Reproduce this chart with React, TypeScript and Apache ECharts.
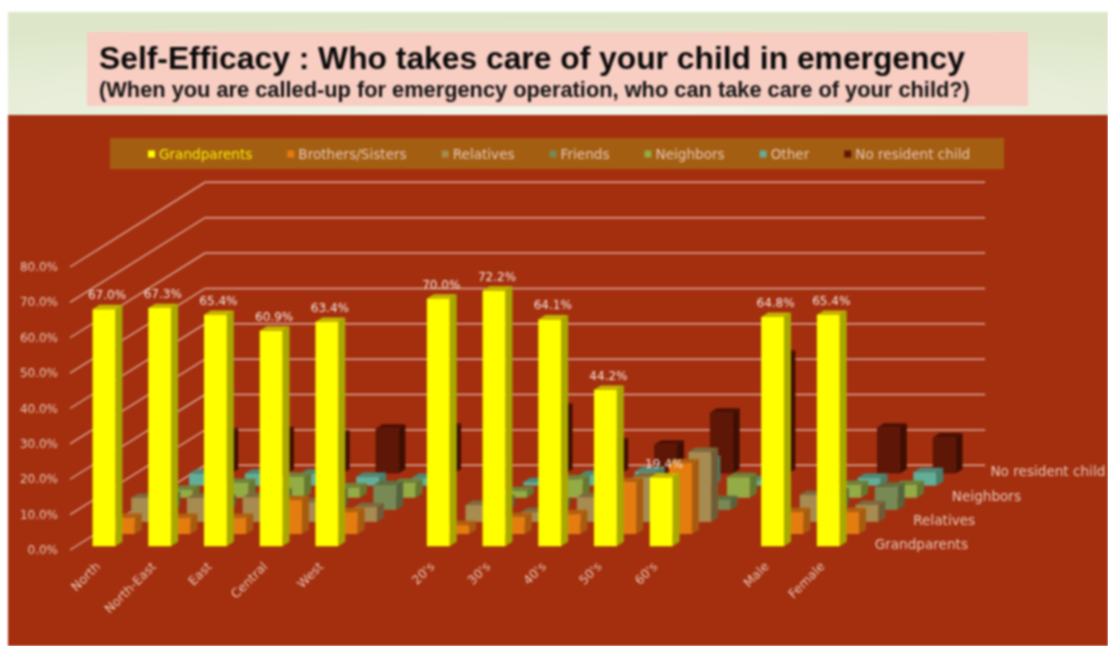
import React, { useEffect, useRef } from "react";
import * as echarts from "echarts";

const titleText = "Self-Efficacy : Who takes care of your child in emergency";
const subtitleText = "(When you are called-up for emergency operation, who can take care of your child?)";

const categories = ["North", "North-East", "East", "Central", "West", "", "20's", "30's", "40's", "50's", "60's", "", "Male", "Female"];
const rowNames = ["Grandparents", "Brothers/Sisters", "Relatives", "Friends", "Neighbors", "Other", "No resident child"];
const depthLabels = ["Grandparents", "", "Relatives", "", "Neighbors", "", "No resident child"];
const yTicks = [0, 10, 20, 30, 40, 50, 60, 70, 80];

const grandparents = [67.0, 67.3, 65.4, 60.9, 63.4, null, 70.0, 72.2, 64.1, 44.2, 19.4, null, 64.8, 65.4];
const brothers = [4.6, 4.6, 4.6, 9.6, 6.2, null, 2.5, 4.8, 5.6, 14.7, 20.0, null, 6.2, 6.2];
const relatives = [6.8, 6.8, 7.0, 5.6, 4.2, null, 4.8, 2.8, 7.0, 12.7, 19.8, null, 7.6, 4.8];
const friends = [4.0, 3.0, 5.0, 5.0, 7.0, null, 3.0, 2.0, 4.0, 3.0, 2.8, null, 5.0, 6.5];
const neighbors = [2.2, 4.2, 5.9, 2.9, 4.2, null, 1.9, 5.2, 4.0, 3.0, 5.8, null, 3.6, 3.6];
const other = [3.4, 3.4, 3.4, 2.5, 2.2, null, 1.0, 3.0, 4.0, 7.3, 1.5, null, 2.2, 3.8];
const noResident = [11.6, 12.0, 11.0, 12.7, 13.0, null, 18.6, 8.8, 8.2, 17.2, 33.6, null, 13.0, 10.2];

const rowValues = [grandparents, brothers, relatives, friends, neighbors, other, noResident];

const frontColors = ["#FFFF00", "#E57C10", "#A78B50", "#778A55", "#93AC46", "#63AE98", "#5E1606"];
const sideColors = ["#A8A800", "#A85B0E", "#6F5C37", "#56643D", "#66782F", "#47806E", "#3E0E03"];
const topColors = ["#C4B400", "#B0600F", "#7E6A3E", "#5E7040", "#70823A", "#4C8A78", "#4A1004"];

const FONT = "'DejaVu Sans', sans-serif";
const TEXT = "#E6C8B8";
const ROW_DX = 19.3;
const ROW_DY = -12.1;
const BAR_DX = 7;
const BAR_DY = -4.4;
const LINE = "#D9A999";

export default function App() {
  const ref = useRef<HTMLDivElement>(null);
  useEffect(() => {
    const chart = echarts.init(ref.current!, undefined, { renderer: "svg" });

    const barSeries = rowNames.map((name, r) => ({
      type: "custom",
      name,
      coordinateSystem: "cartesian2d",
      z: 20 - r,
      silent: true,
      itemStyle: { color: frontColors[r] },
      encode: { x: 0, y: 1 },
      data: rowValues[r].map((v, i) => [i, v]).filter((d) => d[1] !== null),
      renderItem: (_p: any, api: any) => {
        const i = api.value(0);
        const v = api.value(1);
        const top = api.coord([i, v]);
        const base = api.coord([i, 0]);
        const w = api.size([1, 0])[0] * 0.41;
        const ox = (r + 0.5) * ROW_DX - BAR_DX / 2 - w / 2;
        const oy = (r + 0.5) * ROW_DY - BAR_DY / 2;
        const x = top[0] + ox;
        const yT = top[1] + oy;
        const yB = base[1] + oy;
        const children: any[] = [
          {
            type: "polygon",
            shape: { points: [[x + w, yT], [x + w + BAR_DX, yT + BAR_DY], [x + w + BAR_DX, yB + BAR_DY], [x + w, yB]] },
            style: { fill: sideColors[r] },
          },
          {
            type: "polygon",
            shape: { points: [[x, yT], [x + w, yT], [x + w + BAR_DX, yT + BAR_DY], [x + BAR_DX, yT + BAR_DY]] },
            style: { fill: topColors[r] },
          },
          { type: "rect", shape: { x, y: yT, width: w, height: yB - yT }, style: { fill: frontColors[r] } },
        ];
        if (r === 0) {
          children.push({
            type: "text",
            style: {
              text: v.toFixed(1) + "%",
              x: x + w / 2 + 3,
              y: yT - 14,
              align: "center",
              verticalAlign: "middle",
              fill: "#F5E8E0",
              font: `12px ${FONT}`,
            },
          });
        }
        return { type: "group", children };
      },
    }));

    const wallSeries = {
      type: "custom",
      name: "walls",
      coordinateSystem: "cartesian2d",
      z: 3,
      silent: true,
      encode: { x: 0, y: 1 },
      data: yTicks.map((t) => [0, t]),
      renderItem: (_p: any, api: any) => {
        const band = api.size([1, 0])[0];
        const a = api.coord([0, api.value(1)]);
        const b = api.coord([categories.length - 1, api.value(1)]);
        const xL = a[0] - band / 2;
        const xR = b[0] + band / 2;
        const dx = ROW_DX * rowNames.length;
        const dy = ROW_DY * rowNames.length;
        return {
          type: "polyline",
          shape: { points: [[xL, a[1]], [xL + dx, a[1] + dy], [xR + dx, a[1] + dy]] },
          style: { stroke: LINE, lineWidth: 1.4, fill: "none" },
        };
      },
    };

    const depthSeries = {
      type: "custom",
      name: "depth labels",
      coordinateSystem: "cartesian2d",
      z: 25,
      silent: true,
      encode: { x: 0, y: 1 },
      data: depthLabels.map((_, r) => [categories.length - 1, 0, r]),
      renderItem: (_p: any, api: any) => {
        const r = api.value(2);
        if (!depthLabels[r]) return undefined;
        const band = api.size([1, 0])[0];
        const c = api.coord([api.value(0), 0]);
        return {
          type: "text",
          style: {
            text: depthLabels[r],
            x: c[0] + band / 2 + (r + 0.5) * ROW_DX + 15,
            y: c[1] + (r + 0.5) * ROW_DY,
            align: "left",
            verticalAlign: "middle",
            fill: TEXT,
            font: `13.6px ${FONT}`,
          },
        };
      },
    };

    chart.setOption({
      animation: false,
      title: {
        text: titleText,
        subtext: subtitleText,
        left: 94,
        top: 37,
        itemGap: 4,
        textStyle: { fontFamily: "'Liberation Sans', sans-serif", fontWeight: "bold", fontSize: 31.8, color: "#0a0a0a" },
        subtextStyle: { fontFamily: "'Liberation Sans', sans-serif", fontWeight: "bold", fontSize: 21.8, color: "#141414" },
      },
      legend: {
        data: rowNames.map((name, r) => ({
          name,
          icon: "rect",
          textStyle: { color: r === 0 ? "#F7F000" : TEXT },
        })),
        left: 143,
        top: 142,
        itemWidth: 7,
        itemHeight: 7,
        itemGap: 35,
        selectedMode: false,
        textStyle: { fontFamily: FONT, fontSize: 13.6, padding: [0, 0, 0, -1] },
      },
      grid: { left: 70, top: 267, width: 780, height: 283 },
      xAxis: {
        type: "category",
        data: categories,
        axisLine: { show: false },
        axisTick: { show: false },
        axisLabel: { interval: 0, rotate: 45, margin: 14, color: TEXT, fontFamily: FONT, fontSize: 12.5 },
        splitLine: { show: false },
      },
      yAxis: {
        type: "value",
        min: 0,
        max: 80,
        interval: 10,
        axisLine: { show: false },
        axisTick: { show: false },
        splitLine: { show: false },
        axisLabel: { margin: 12, color: TEXT, fontFamily: FONT, fontSize: 12, formatter: (v: number) => v.toFixed(1) + "%" },
      },
      graphic: [
        {
          type: "rect",
          z: -10,
          shape: { x: 8, y: 12, width: 1100, height: 103 },
          style: {
            fill: new echarts.graphic.RadialGradient(0.5, 1, 0.95, [
              { offset: 0, color: "#F4F6EC" },
              { offset: 1, color: "#DDE6C8" },
            ]),
          },
        },
        { type: "rect", z: -10, shape: { x: 8, y: 115, width: 1100, height: 531 }, style: { fill: "#A42F0F" } },
        { type: "rect", z: -9, shape: { x: 87, y: 32, width: 941, height: 74 }, style: { fill: "#F8CDC2" } },
        { type: "rect", z: -9, shape: { x: 110, y: 138, width: 894, height: 31 }, style: { fill: "#A45E11" } },
      ],
      series: [wallSeries, depthSeries, ...barSeries],
    });
    return () => chart.dispose();
  }, []);
  return (
    <div
      ref={ref}
      style={{ position: "fixed", left: 0, top: 0, width: 1108, height: 646, background: "#ffffff", filter: "blur(0.8px)" }}
    />
  );
}
